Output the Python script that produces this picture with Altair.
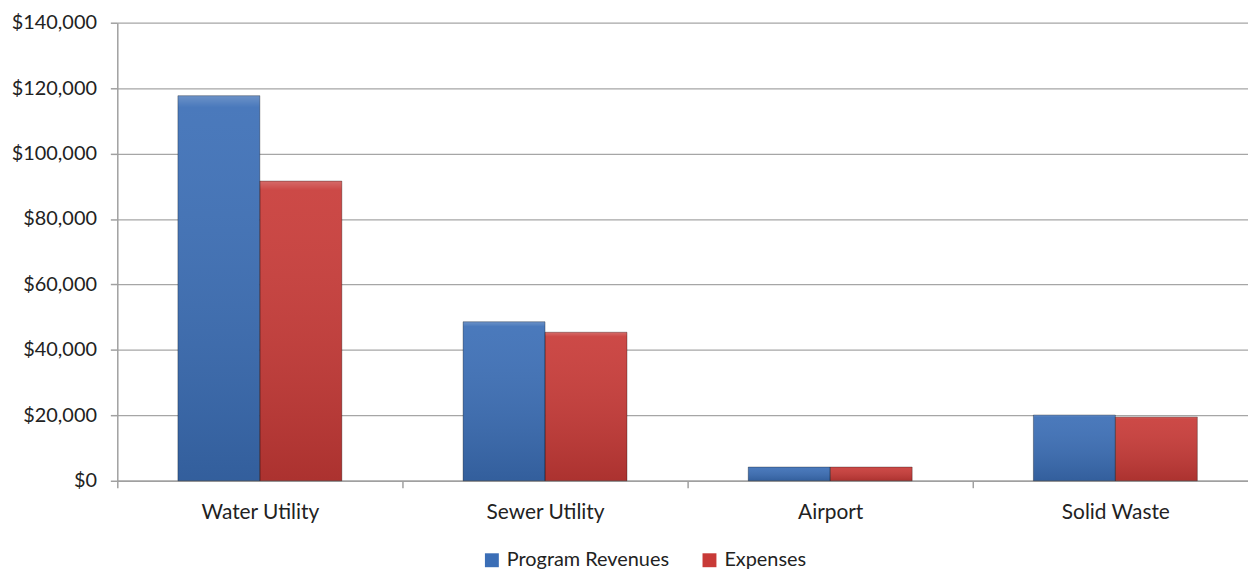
import altair as alt
import pandas as pd

categories = ["Water Utility", "Sewer Utility", "Airport", "Solid Waste"]
series = ["Program Revenues", "Expenses"]
revenues = [117700, 48600, 4200, 20100]
expenses = [91600, 45400, 4200, 19500]
y_ticks = [0, 20000, 40000, 60000, 80000, 100000, 120000, 140000]
colors = ["#3B6EB6", "#C83A37"]

rows = []
for c, r, e in zip(categories, revenues, expenses):
    rows.append({"category": c, "series": series[0], "value": r})
    rows.append({"category": c, "series": series[1], "value": e})
df = pd.DataFrame(rows)

FONT = "Lato"

x_enc = alt.X(
    "category:N",
    sort=categories,
    title=None,
    scale=alt.Scale(paddingInner=0, paddingOuter=0, range=[0, 1148]),
    axis=alt.Axis(
        labelAngle=0, tickBand="extent", tickSize=7, tickColor="#A0A0A0",
        tickWidth=1.5, domainColor="#A0A0A0", domainWidth=1.5,
        labelPadding=14, labelFontSize=21, labelFont=FONT, labelColor="#222222",
        grid=False,
    ),
)
xoff_enc = alt.XOffset(
    "series:N", sort=series,
    scale=alt.Scale(domain=series, paddingInner=0, paddingOuter=0.7394),
)
y_enc = alt.Y(
    "value:Q",
    title=None,
    scale=alt.Scale(domain=[0, 140000], nice=False),
    axis=alt.Axis(
        values=y_ticks, format="$,.0f", tickSize=7, tickColor="#A0A0A0", tickWidth=1.5,
        domainColor="#A0A0A0", domainWidth=1.5, gridColor="#A6A6A6", gridWidth=1.3,
        labelPadding=14, labelFontSize=20, labelFont=FONT, labelColor="#222222",
    ),
)

base = alt.Chart(df).mark_bar().encode(
    x=x_enc,
    xOffset=xoff_enc,
    y=y_enc,
    color=alt.Color(
        "series:N",
        sort=series,
        scale=alt.Scale(domain=series, range=colors),
        legend=alt.Legend(
            title=None, orient="none", direction="horizontal", legendX=367, legendY=531,
            symbolType="square", symbolSize=196, symbolStrokeWidth=0, labelFontSize=20,
            labelFont=FONT, labelColor="#222222", labelOffset=5, columnPadding=30, padding=0,
            labelLimit=400,
        ),
    ),
)

shade = alt.Chart(df).mark_bar(
    fill=alt.Gradient(
        gradient="linear", x1=0, y1=0, x2=0, y2=1,
        stops=[
            alt.GradientStop(offset=0, color="rgba(255,255,255,0.25)"),
            alt.GradientStop(offset=0.03, color="rgba(255,255,255,0.08)"),
            alt.GradientStop(offset=1, color="rgba(0,0,0,0.14)"),
        ],
    ),
    stroke="rgba(0,0,0,0.3)",
    strokeWidth=1,
).encode(x=x_enc, xOffset=xoff_enc, y=y_enc)

chart = (
    alt.layer(base, shade)
    .properties(
        width=1138,
        height=461,
        autosize=alt.AutoSizeParams(type="none"),
        padding={"left": 110, "top": 13, "right": 0, "bottom": 87},
    )
    .configure_view(stroke=None)
)

chart.save("out.html", embed_options={"renderer": "svg", "actions": False})
